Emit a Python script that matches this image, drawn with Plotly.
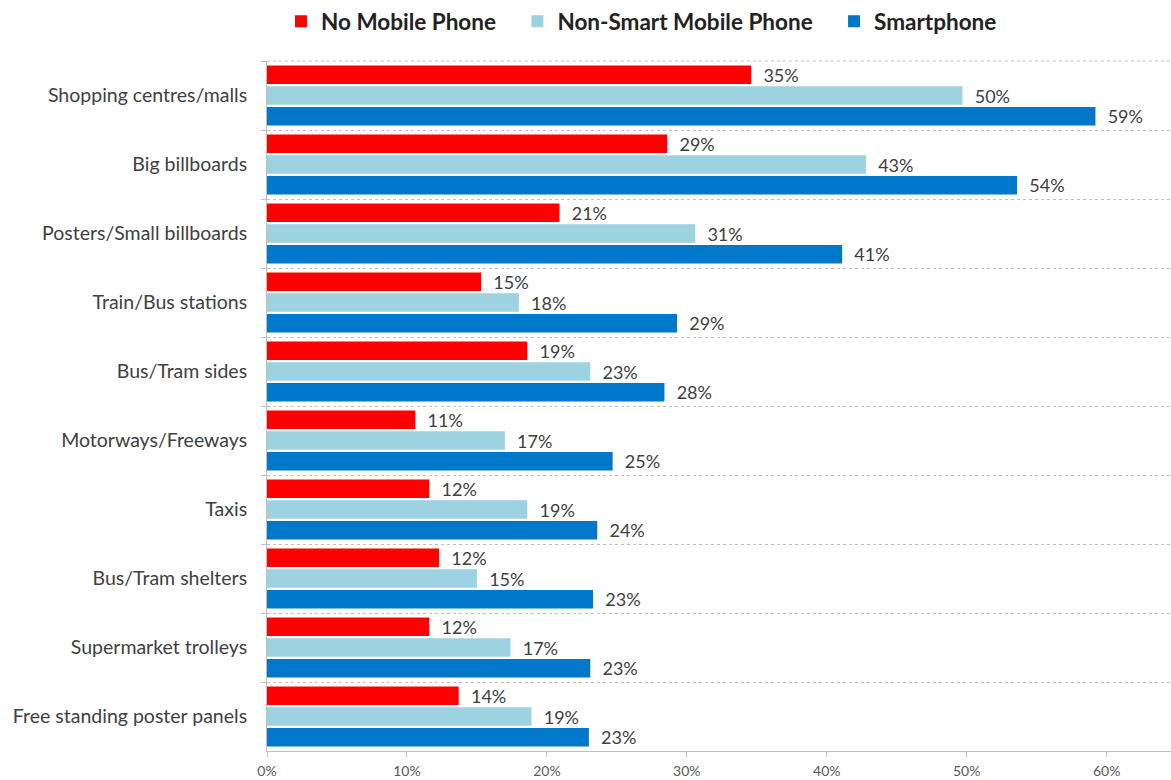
import plotly.graph_objects as go

categories = [
    "Shopping centres/malls",
    "Big billboards",
    "Posters/Small billboards",
    "Train/Bus stations",
    "Bus/Tram sides",
    "Motorways/Freeways",
    "Taxis",
    "Bus/Tram shelters",
    "Supermarket trolleys",
    "Free standing poster panels",
]
no_mobile = [34.6, 28.6, 20.9, 15.3, 18.6, 10.6, 11.6, 12.3, 11.6, 13.7]
non_smart = [49.7, 42.8, 30.6, 18.0, 23.1, 17.0, 18.6, 15.0, 17.4, 18.9]
smartphone = [59.2, 53.6, 41.1, 29.3, 28.4, 24.7, 23.6, 23.3, 23.1, 23.0]

series_names = ["No Mobile Phone", "Non-Smart Mobile Phone", "Smartphone"]
series_values = [no_mobile, non_smart, smartphone]
series_colors = ["#FF0000", "#9DD2E0", "#0077C8"]

FONT = "Lato"
TXT = "#404040"
PAD = "\u00a0\u00a0\u00a0"

fig = go.Figure()
for i, (name, vals, col) in enumerate(zip(series_names, series_values, series_colors)):
    fig.add_trace(go.Bar(
        name=name + (PAD if i < len(series_names) - 1 else ""),
        y=categories, x=vals, orientation="h",
        marker=dict(color=col, line=dict(width=0)),
        texttemplate="\u00a0\u00a0%{x:.0f}%", textposition="outside",
        constraintext="none",
        textfont=dict(family=FONT, size=18, color=TXT),
        cliponaxis=False,
    ))

fig.update_layout(
    width=1171, height=780,
    margin=dict(l=267, r=0, t=61, b=29),
    paper_bgcolor="white", plot_bgcolor="white",
    barmode="group", bargap=0.1, bargroupgap=0.1,
    font=dict(family=FONT, color=TXT),
    legend=dict(
        orientation="h", x=0.0155, xanchor="left", y=1.057, yanchor="middle",
        font=dict(family=FONT, size=22.5, color="#222222", weight="bold"),
        itemwidth=30, traceorder="normal",
    ),
    showlegend=True,
    shapes=[dict(
        type="line", xref="paper", yref="paper", x0=0, x1=1, y0=1, y1=1,
        line=dict(color="#BFBFBF", width=1, dash="3px,3px"),
    )],
)
fig.update_xaxes(
    range=[0, 64.6], dtick=10, ticksuffix="%", showgrid=False, zeroline=False,
    showline=True, linecolor="#BFBFBF", linewidth=1,
    ticks="outside", ticklen=5, tickcolor="#BFBFBF",
    tickfont=dict(family=FONT, size=14, color="#595959"), ticklabelstandoff=2,
)
fig.update_yaxes(
    autorange="reversed", tickson="boundaries", showgrid=True,
    gridcolor="#BFBFBF", griddash="3px,3px", gridwidth=1,
    showline=True, linecolor="#BFBFBF", linewidth=1,
    ticks="outside", ticklen=5, tickcolor="#BFBFBF",
    tickfont=dict(family=FONT, size=19.5, color=TXT), ticklabelstandoff=15,
)

fig.write_html("out.html")
